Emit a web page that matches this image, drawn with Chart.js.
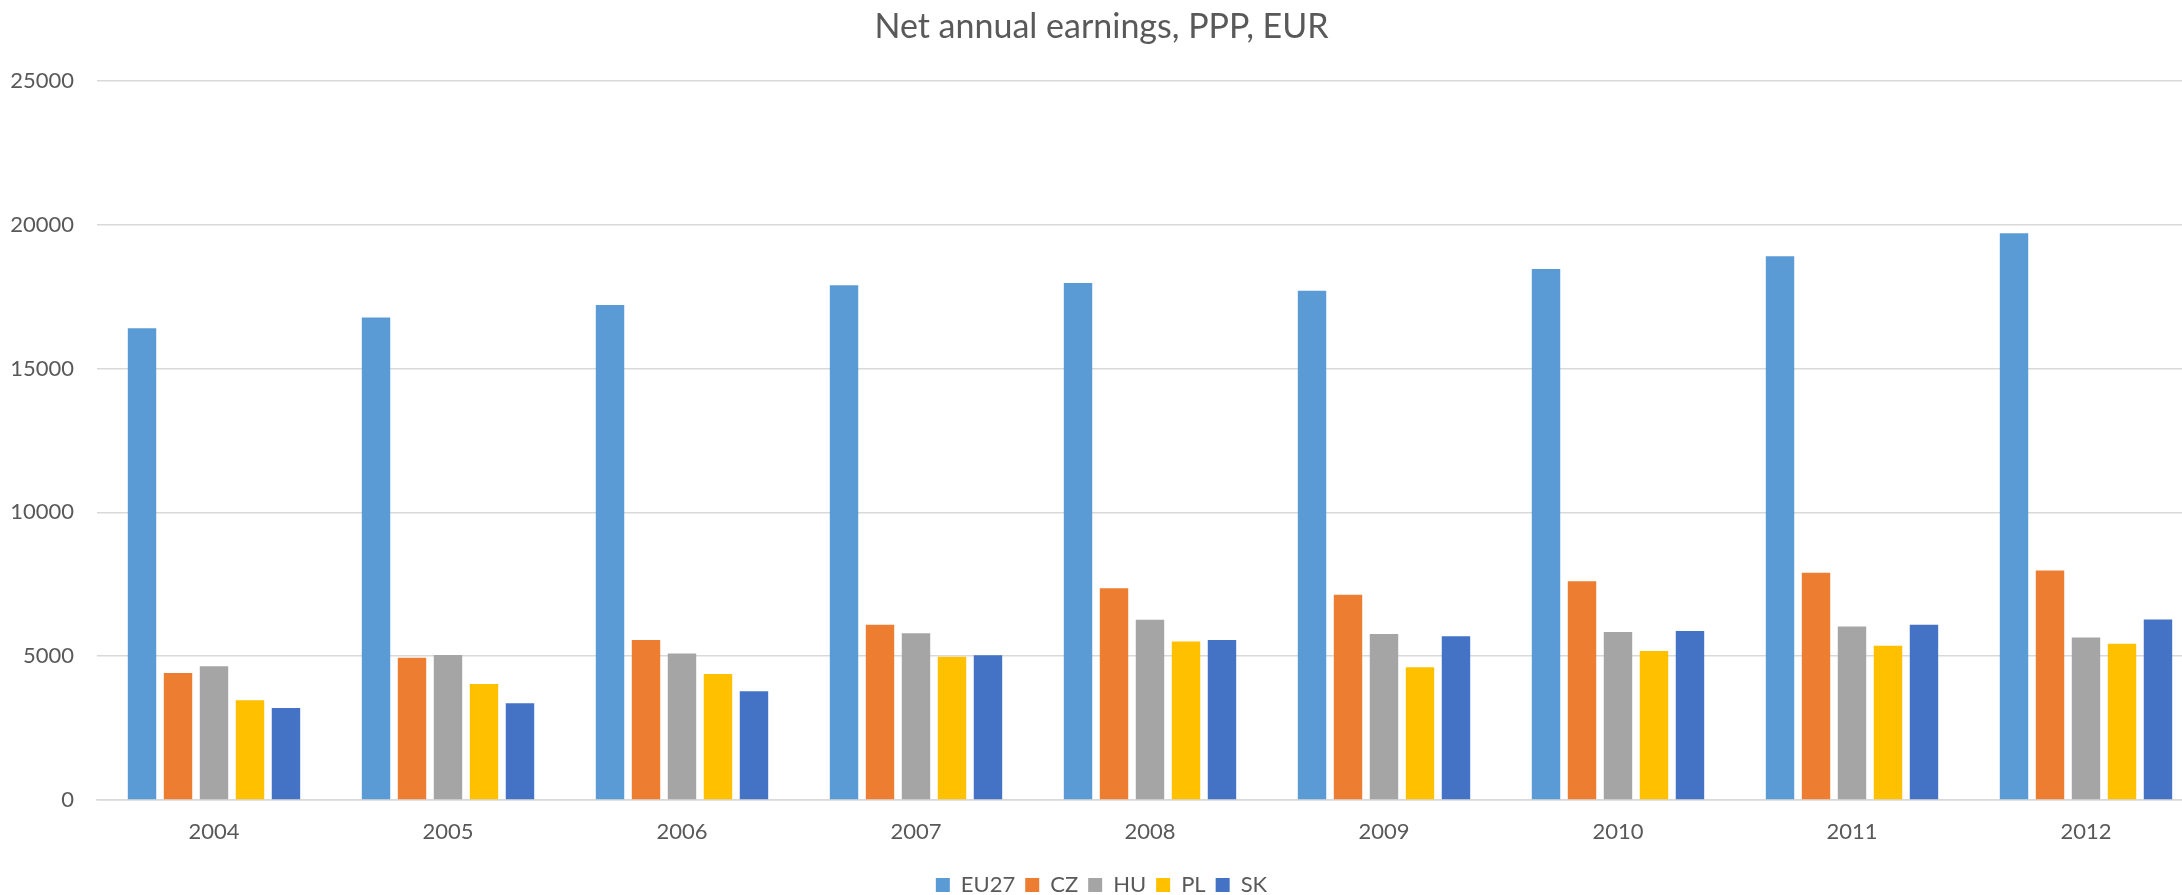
<!DOCTYPE html>
<html>
<head>
<meta charset="utf-8">
<script src="https://cdn.jsdelivr.net/npm/chart.js@4"></script>
<style>
  html, body { margin: 0; padding: 0; background: #fff; overflow: hidden; }
  #wrap { width: 2226px; height: 895px; }
</style>
</head>
<body>
<div id="wrap"><canvas id="myChart" width="2226" height="895"></canvas></div>
<script>
const years = ['2004', '2005', '2006', '2007', '2008', '2009', '2010', '2011', '2012'];
const eu27 = [16400, 16780, 17210, 17900, 17980, 17710, 18460, 18910, 19710];
const cz = [4420, 4950, 5560, 6090, 7360, 7140, 7610, 7900, 7980];
const hu = [4650, 5040, 5090, 5800, 6270, 5770, 5840, 6030, 5650];
const pl = [3470, 4030, 4380, 4980, 5510, 4620, 5180, 5360, 5430];
const sk = [3200, 3360, 3780, 5030, 5560, 5690, 5880, 6090, 6280];

const textColor = '#595959';
const fontFamily = 'Lato, "Open Sans", sans-serif';

const ctx = document.getElementById('myChart');

new Chart(ctx, {
    type: 'bar',
    data: {
        labels: years,
        datasets: [
            { label: 'EU27', data: eu27, backgroundColor: '#5B9BD5' },
            { label: 'CZ', data: cz, backgroundColor: '#ED7D31' },
            { label: 'HU', data: hu, backgroundColor: '#A5A5A5' },
            { label: 'PL', data: pl, backgroundColor: '#FFC000' },
            { label: 'SK', data: sk, backgroundColor: '#4472C4' }
        ]
    },
    options: {
        responsive: false,
        animation: false,
        // negative bottom padding pushes the legend's empty space off the canvas
        layout: { padding: { left: 0, right: 23, top: 0, bottom: -11 } },
        datasets: {
            bar: { categoryPercentage: 0.769, barPercentage: 0.79 }
        },
        scales: {
            x: {
                grid: { display: false, drawTicks: false },
                border: { display: true, color: '#D9D9D9', width: 1.5 },
                ticks: { color: textColor, font: { family: fontFamily, size: 22 }, padding: 19, maxRotation: 0 },
                afterFit: (scale) => { scale.height = 64; }
            },
            y: {
                min: 0,
                max: 25000,
                grid: { color: '#D9D9D9', lineWidth: 1.5, drawTicks: false },
                border: { display: false },
                ticks: {
                    stepSize: 5000,
                    color: textColor,
                    font: { family: fontFamily, size: 22 },
                    padding: 23,
                    callback: (v) => String(v)
                },
                afterFit: (scale) => { scale.width = 97; }
            }
        },
        plugins: {
            title: {
                display: true,
                text: 'Net annual earnings, PPP, EUR',
                color: textColor,
                font: { family: fontFamily, size: 34, weight: 'normal', lineHeight: 1.2 },
                padding: { top: 6.6, bottom: 33.6 }
            },
            legend: {
                display: true,
                position: 'bottom',
                labels: {
                    color: textColor,
                    font: { family: fontFamily, size: 22, lineHeight: 1 },
                    boxWidth: 14,
                    boxHeight: 14,
                    padding: 10
                }
            },
            tooltip: { enabled: false }
        }
    }
});
</script>
</body>
</html>
